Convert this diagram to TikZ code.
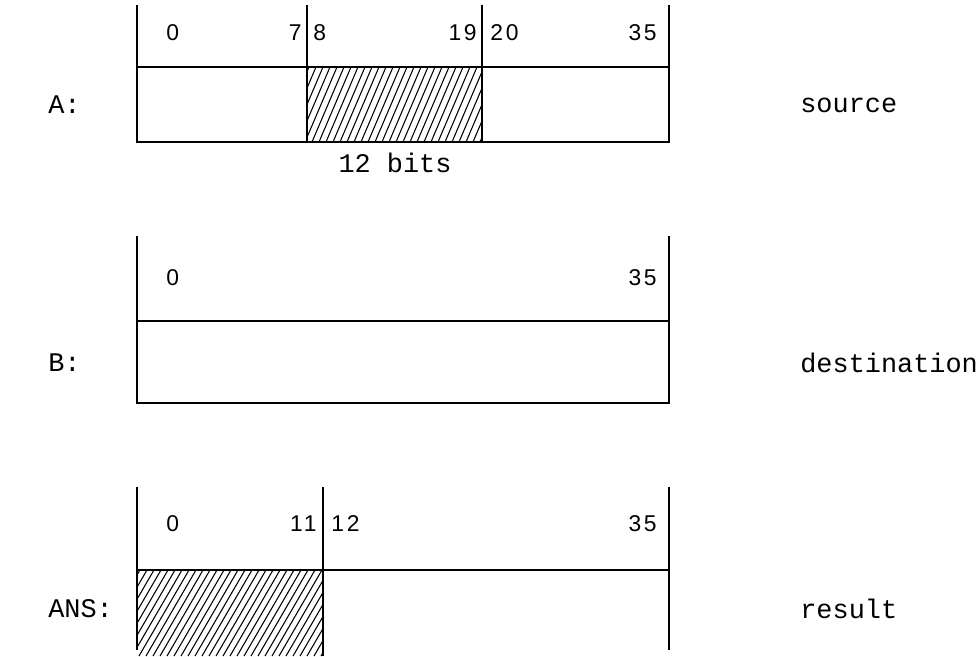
\documentclass[tikz,border=0pt]{standalone}
\usepackage{fontspec}
\setmonofont{Liberation Mono}
\newfontfamily\bitfont{Liberation Sans}[LetterSpace=12]
\begin{document}
\begin{tikzpicture}[
            x=0.02cm,
            y=-0.02cm,
            reg/.style={
                line width=1pt
            },
            hatch/.style={
                line width=0.6pt
            },
            bitno/.style={
                font=\bitfont\fontsize{13}{13}\selectfont,
                inner sep=0pt
            },
            regname/.style={
                font=\ttfamily\fontsize{15.3}{15.3}\selectfont,
                anchor=west,
                inner sep=0pt
            }
        ]
            \useasboundingbox (0,0) rectangle (979,656);

            % A: source
            \draw[reg] (137,5) -- (137,142) -- (669,142) -- (669,5);
            \draw[reg] (137,67) -- (669,67);
            \draw[reg] (307,5) -- (307,142);
            \draw[reg] (482,5) -- (482,142);
            \begin{scope}
                \clip (307,67) rectangle (482,142);
                \foreach \i in {0,...,30}
                    \draw[hatch] (270+7*\i,142) -- ++(32,-75);
            \end{scope}

            \node[bitno, anchor=west] (a0) at (166,33) {0};
            \node[bitno, anchor=east] (a7) at (302,33) {7};
            \node[bitno, anchor=west] (a8) at (313,33) {8};
            \node[bitno, anchor=east] (a19) at (477,33) {19};
            \node[bitno, anchor=west] (a20) at (490,33) {20};
            \node[bitno, anchor=east] (a35) at (657,33) {35};
            \node[regname, anchor=center] (abits) at (395,163) {12 bits};

            \node[regname] (nameA) at (48,105) {A:};
            \node[regname] (roleA) at (800,105) {source};

            % B: destination
            \draw[reg] (137,236) -- (137,403) -- (669,403) -- (669,236);
            \draw[reg] (137,321) -- (669,321);

            \node[bitno, anchor=west] (b0) at (166,278) {0};
            \node[bitno, anchor=east] (b35) at (657,278) {35};

            \node[regname] (nameB) at (48,363) {B:};
            \node[regname] (roleB) at (800,363) {destination};

            % ANS: result
            \draw[reg] (137,650) -- (137,487);
            \draw[reg] (669,650) -- (669,487);
            \draw[reg] (137,570) -- (669,570);
            \draw[reg] (323,487) -- (323,656);
            \begin{scope}
                \clip (137,570) rectangle (323,656);
                \foreach \i in {0,...,36}
                    \draw[hatch] (90+7*\i,656) -- ++(50,-86);
            \end{scope}

            \node[bitno, anchor=west] (c0) at (166,524) {0};
            \node[bitno, anchor=east] (c11) at (317,524) {11};
            \node[bitno, anchor=west] (c12) at (331,524) {12};
            \node[bitno, anchor=east] (c35) at (657,524) {35};

            \node[regname] (nameC) at (48,609) {ANS:};
            \node[regname] (roleC) at (800,609) {result};

        \end{tikzpicture}
\end{document}
